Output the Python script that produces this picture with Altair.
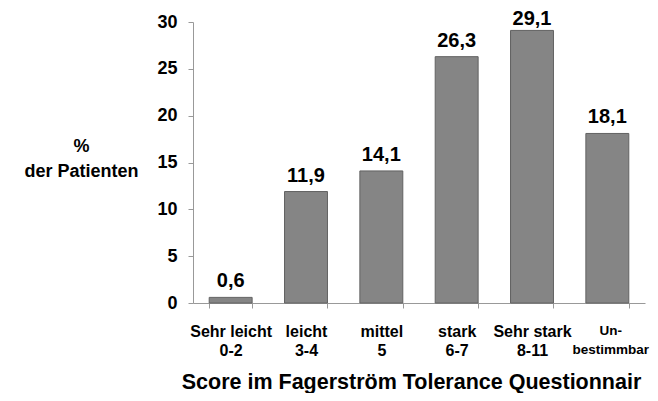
import altair as alt
import pandas as pd

categories = ["Sehr leicht\n0-2", "leicht\n3-4", "mittel\n5", "stark\n6-7", "Sehr stark\n8-11", "Un-\nbestimmbar"]
values = [0.6, 11.9, 14.1, 26.3, 29.1, 18.1]
value_labels = ["0,6", "11,9", "14,1", "26,3", "29,1", "18,1"]
y_ticks = [0, 5, 10, 15, 20, 25, 30]

df = pd.DataFrame({"cat": categories, "val": values, "lab": value_labels})

FONT = "Liberation Sans"
IS_LAST = "indexof(datum.label, 'bestimmbar') >= 0"

x_enc = alt.X(
    "cat:N",
    sort=None,
    scale=alt.Scale(paddingInner=0.43, paddingOuter=0.215),
    axis=alt.Axis(
        title="Score im Fagerström Tolerance Questionnair",
        titleFont=FONT, titleFontSize=21.5, titleFontWeight="bold", titleColor="#000",
        titleX=218, titleY=85, titleAlign="center", titleBaseline="alphabetic",
        labelExpr="split(datum.label, '\\n')",
        labelAngle=0, labelFont=FONT,
        labelFontSize={"condition": {"test": IS_LAST, "value": 13.5}, "value": 16},
        labelFontWeight="bold",
        labelColor="#000", labelBaseline="top", labelLineHeight=19,
        labelPadding=15,
        labelOffset={"condition": {"test": IS_LAST, "value": 3}, "value": 0},
        tickBand="extent", tickSize=5, tickColor="#999", domainColor="#999",
        labelOverlap=False, labelBound=False,
    ),
)

bars = alt.Chart(df).mark_bar(color="#858585", stroke="#626262", strokeWidth=1).encode(
    x=x_enc,
    y=alt.Y(
        "val:Q",
        scale=alt.Scale(domain=[0, 30], nice=False),
        axis=alt.Axis(
            values=y_ticks, grid=False,
            title=["%\u00a0\u00a0\u00a0\u00a0", "der Patienten"],
            titleAngle=0, titleFont=FONT, titleFontSize=18, titleFontWeight="bold",
            titleColor="#000", titleX=-112, titleY=115, titleAlign="center",
            titleBaseline="top", titleLineHeight=25,
            labelFont=FONT, labelFontSize=18, labelFontWeight="bold", labelColor="#000",
            labelPadding=11, tickSize=5, tickColor="#999", domainColor="#999",
        ),
    ),
)

text = alt.Chart(df).transform_calculate(
    ty="min(datum.val, 28.6)"
).mark_text(
    font=FONT, fontSize=20, fontWeight="bold", color="#000", baseline="alphabetic", dy=-10
).encode(
    x=alt.X("cat:N", sort=None),
    y="ty:Q",
    text="lab:N",
)

chart = (bars + text).properties(
    width=452, height=281,
    autosize=alt.AutoSizeParams(type="none"),
    padding={"left": 185, "top": 14, "right": 5, "bottom": 90},
).configure_view(stroke=None)

chart.save("out.html", embed_options={"renderer": "svg", "actions": False})
